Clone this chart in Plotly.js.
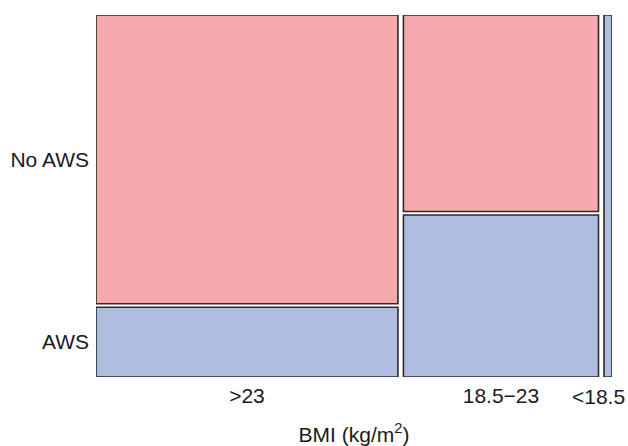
<!DOCTYPE html>
<html>
<head>
<meta charset="utf-8">
<script src="https://cdn.plot.ly/plotly-3.0.1.min.js"></script>
<style>html,body{margin:0;padding:0;background:#fff;}#chart{width:628px;height:446px;}</style>
</head>
<body>
<div id="chart"></div>
<script>
// Data: counts per BMI group
const bmiGroups = ['>23', '18.5\u221223', '<18.5'];
const noAwsCounts = [91, 40, 0];
const awsCounts = [22, 33, 3];
const rowLabels = ['AWS', 'No AWS'];

// Mosaic geometry (derived from counts)
const gapX = 5.5 / 505;
const gapY = 3.5 / 358.5;
const totals = bmiGroups.map((_, i) => noAwsCounts[i] + awsCounts[i]);
const N = totals.reduce((a, b) => a + b, 0);
const widths = totals.map(t => t / N);
const lefts = [];
let acc = 0;
widths.forEach((w, i) => { lefts.push(acc); acc += w + gapX; });
const centers = widths.map((w, i) => lefts[i] + w / 2);
const pAws = awsCounts.map((c, i) => c / totals[i]);
const pNo = noAwsCounts.map((c, i) => c / totals[i]);

const awsIdx = [], noIdx = [];
bmiGroups.forEach((_, i) => { if (awsCounts[i] > 0) awsIdx.push(i); if (noAwsCounts[i] > 0) noIdx.push(i); });

const lineStyle = {color: '#2a2a2a', width: 1.6};
const awsTrace = {
  type: 'bar',
  x: awsIdx.map(i => centers[i]),
  width: awsIdx.map(i => widths[i]),
  base: awsIdx.map(i => 0),
  y: awsIdx.map(i => pAws[i] + (noAwsCounts[i] > 0 ? 0 : gapY)),
  marker: {color: '#AFBDE0', line: lineStyle},
  hoverinfo: 'skip', showlegend: false
};
const noTrace = {
  type: 'bar',
  x: noIdx.map(i => centers[i]),
  width: noIdx.map(i => widths[i]),
  base: noIdx.map(i => pAws[i] + (awsCounts[i] > 0 ? gapY : 0)),
  y: noIdx.map(i => pNo[i]),
  marker: {color: '#F5AAAE', line: lineStyle},
  hoverinfo: 'skip', showlegend: false
};

const font = {family: '"Liberation Sans", Arial, sans-serif', size: 21, color: '#1a1a1a'};
const xRangeMax = 1 + 2 * gapX;

const layout = {
  width: 628, height: 446,
  margin: {l: 96, r: 16, t: 15, b: 69, pad: 0},
  paper_bgcolor: '#ffffff', plot_bgcolor: '#ffffff',
  barmode: 'overlay',
  font: font,
  xaxis: {
    range: [0, xRangeMax], showgrid: false, zeroline: false, showline: false,
    ticks: '', tickvals: centers.slice(0, 2), ticktext: bmiGroups.slice(0, 2),
    tickfont: font, fixedrange: true, ticklabelstandoff: 4,
    title: {text: 'BMI (kg/m<sup>2</sup>)', font: font, standoff: 30}
  },
  yaxis: {
    range: [0, 1 + gapY], showgrid: false, zeroline: false, showline: false,
    ticks: '', tickvals: [pAws[0] / 2, pAws[0] + gapY + pNo[0] / 2],
    ticktext: rowLabels, tickfont: font, fixedrange: true, ticklabelstandoff: 6
  },
  annotations: [{
    x: lefts[2] + widths[2], y: 0, xref: 'x', yref: 'y',
    text: bmiGroups[2], showarrow: false, xanchor: 'right', yanchor: 'top',
    xshift: 15, yshift: -6, font: font
  }]
};

Plotly.newPlot('chart', [awsTrace, noTrace], layout, {staticPlot: true, displayModeBar: false});
</script>
</body>
</html>
